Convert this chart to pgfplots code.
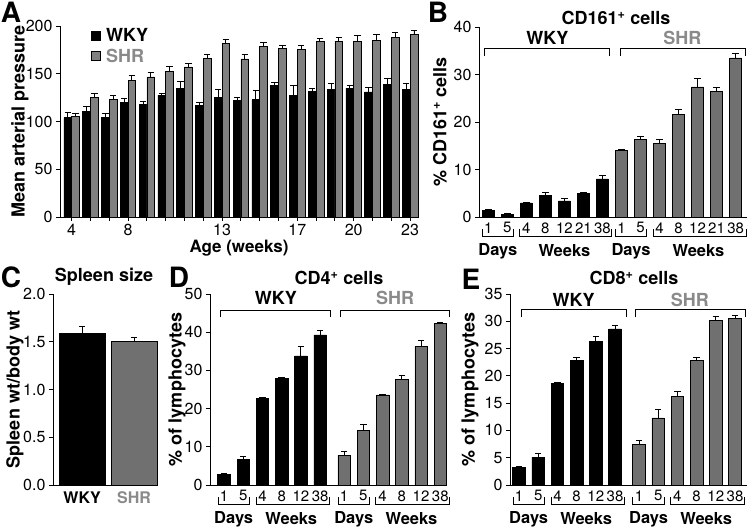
\documentclass[border=0pt]{standalone}
\usepackage{pgfplots}
\pgfplotsset{compat=1.18}
\usepackage{fontspec}
\setmainfont{TeX Gyre Heros}
\definecolor{shrA}{RGB}{128,128,128}
\definecolor{shrB}{RGB}{112,112,112}
\definecolor{shrT}{RGB}{138,138,138}
\newcommand{\fs}[1]{\fontsize{#1}{#1}\selectfont}
\newcommand{\botbr}[4]{%
  \draw[line width=0.8pt] ([yshift=-12pt]axis cs:#1,0) -- ([yshift=-19pt]axis cs:#1,0) -- ([yshift=-19pt]axis cs:#2,0) -- ([yshift=-12pt]axis cs:#2,0);
  \node[font=\bfseries\fs{16.5}] at ([yshift=-34pt]axis cs:#3,0) {#4};}
\newcommand{\topbr}[7]{%
  \draw[line width=0.8pt] (axis cs:#1,#4) -- (axis cs:#1,#3) -- (axis cs:#2,#3) -- (axis cs:#2,#4);
  \node[font=\bfseries\fs{18}] at (axis cs:#5,#6) {#7};}
\pgfplotsset{
 panel/.style={
   scale only axis, clip=false,
   axis x line*=bottom, axis y line*=left,
   axis line style={line width=0.9pt},
   ybar, bar shift=0pt,
   ymin=0,
   tick align=outside,
   major tick length=4pt,
   y tick style={line width=0.9pt, black},
   x tick style={draw=none},
   /pgf/number format/assume math mode=true,
   yticklabel style={font=\fs{16}},
   xticklabel style={font=\fs{15}},
   ylabel style={font=\bfseries\fs{18}},
   error bars/y dir=plus, error bars/y explicit,
   error bars/error bar style={line width=0.9pt, black},
   error bars/error mark options={rotate=90, line width=0.9pt, black, mark size=3.2pt},
 },
 wky/.style={fill=black, draw=black, line width=0.6pt},
 shr/.style={fill=shrB, draw=black, line width=0.6pt},
}
\begin{document}
\begin{tikzpicture}
\path[use as bounding box] (0pt,0pt) rectangle (748pt,528pt);

% ---------------- A ----------------
\begin{axis}[panel, at={(60pt,311pt)}, anchor=south west, width=358pt, height=191pt,
  xmin=-0.62, xmax=18.42, ymax=200, ytick={0,50,...,200},
  bar width=0.41,
  xtick={0,...,18}, xticklabels={4,,,8,,,,,13,,,,17,,,20,,,23},
  x tick style={draw=black, line width=0.9pt},
  xticklabel style={font=\fs{16}},
  ylabel={Mean arterial pressure},
  ylabel style={at={(axis description cs:-0.112,0.5)}, anchor=center},
  xlabel={Age (weeks)},
  xlabel style={font=\bfseries\fs{17}, at={(axis description cs:0.5,-0.163)}, anchor=center},
  legend style={draw=none, fill=none, at={(axis description cs:0.085,1.0)}, anchor=north west,
    font=\bfseries\fs{18}, inner sep=0pt, row sep=2pt, cells={anchor=west}},
  every axis plot post/.append style={legend image code/.code={\filldraw[##1, draw=black, line width=0.6pt] (0pt,-4.5pt) rectangle (9pt,4.5pt);}},
]
\addplot[wky] coordinates {
(-0.205,103.9) +- (0,5.6) (0.795,110.5) +- (0,5.3) (1.795,103.9) +- (0,4.9) (2.795,119.6) +- (0,4.3)
(3.795,117.5) +- (0,3.2) (4.795,127.7) +- (0,2.1) (5.795,134.7) +- (0,7.4) (6.795,116.5) +- (0,3.1)
(7.795,125.6) +- (0,7.7) (8.795,122.1) +- (0,2.8) (9.795,122.8) +- (0,9.8) (10.795,137.5) +- (0,3.2)
(11.795,127.7) +- (0,10.2) (12.795,131.9) +- (0,2.8) (13.795,134.0) +- (0,5.6) (14.795,134.7) +- (0,3.2)
(15.795,130.9) +- (0,4.5) (16.795,138.9) +- (0,6.7) (17.795,134.0) +- (0,6.0)};
\addplot[fill=shrA, draw=black, line width=0.6pt] coordinates {
(0.205,105.3) +- (0,3.5) (1.205,124.9) +- (0,4.9) (2.205,123.5) +- (0,3.5) (3.205,143.2) +- (0,4.9)
(4.205,146.7) +- (0,4.2) (5.205,152.6) +- (0,5.3) (6.205,157.2) +- (0,3.5) (7.205,166.0) +- (0,4.2)
(8.205,181.8) +- (0,4.2) (9.205,165.6) +- (0,4.2) (10.205,178.9) +- (0,3.9) (11.205,176.8) +- (0,2.8)
(12.205,175.4) +- (0,4.2) (13.205,184.2) +- (0,2.8) (14.205,184.2) +- (0,3.8) (15.205,184.2) +- (0,6.0)
(16.205,184.9) +- (0,6.3) (17.205,187.7) +- (0,5.6) (18.205,190.9) +- (0,4.2)};
\legend{\hspace{4pt}WKY, \hspace{4pt}\textcolor{shrT}{SHR}}
\end{axis}

% ---------------- B ----------------
\begin{axis}[panel, at={(479pt,311pt)}, anchor=south west, width=268pt, height=190pt,
  xmin=-0.49, xmax=13.6, ymax=40, ytick={0,10,...,40}, bar width=0.63,
  xtick={0,...,13}, xticklabels={1,5,4,8,12,21,38,1,5,4,8,12,21,38},
  xticklabel style={yshift=2pt},
  ylabel={\% CD161\textsuperscript{+} cells},
  ylabel style={at={(axis description cs:-0.146,0.5)}, anchor=center},
]
\addplot[wky] coordinates {
(0,1.34) +- (0,0.15) (1,0.55) +- (0,0.1) (2,2.95) +- (0,0.1) (3,4.6) +- (0,0.6)
(4,3.37) +- (0,0.5) (5,5.0) +- (0,0.15) (6,8.0) +- (0,0.7)};
\addplot[shr] coordinates {
(7,14.0) +- (0,0.15) (8,16.4) +- (0,0.6) (9,15.5) +- (0,0.8) (10,21.6) +- (0,1.1)
(11,27.4) +- (0,1.8) (12,26.4) +- (0,0.8) (13,33.5) +- (0,0.9)};
\topbr{-0.21}{6.36}{35.5}{33.9}{3.1}{37.6}{WKY}
\topbr{6.92}{13.53}{35.5}{33.9}{10.2}{37.6}{\textcolor{shrT}{SHR}}
\botbr{-0.32}{1.33}{0.5}{Days}
\botbr{1.63}{6.45}{4.0}{Weeks}
\botbr{6.66}{8.33}{7.5}{Days}
\botbr{8.67}{13.55}{11.05}{Weeks}
\end{axis}

% ---------------- C ----------------
\begin{axis}[panel, at={(53pt,43pt)}, anchor=south west, width=105pt, height=191pt,
  xmin=-0.56, xmax=1.46, ymax=2, ytick={0,0.5,...,2}, bar width=0.88,
  yticklabel style={/pgf/number format/.cd, fixed, fixed zerofill, precision=1},
  xtick={0,1}, xticklabels={WKY, \textcolor{shrT}{SHR}},
  xticklabel style={font=\bfseries\fs{16}, yshift=1pt},
  ylabel={Spleen wt/body wt},
  ylabel style={at={(axis description cs:-0.362,0.5)}, anchor=center},
]
\addplot[wky] coordinates {(0,1.59) +- (0,0.07)};
\addplot[shr] coordinates {(1,1.50) +- (0,0.05)};
\end{axis}

% ---------------- D ----------------
\begin{axis}[panel, at={(210pt,43pt)}, anchor=south west, width=237pt, height=191pt,
  xmin=-0.73, xmax=11.6, ymax=50, ytick={0,10,...,50}, bar width=0.65,
  xtick={0,1,2,3,4,5,6.25,7.25,8.25,9.25,10.25,11.25},
  xticklabels={1,5,4,8,12,38,1,5,4,8,12,38},
  xticklabel style={yshift=2pt},
  ylabel={\% of lymphocytes},
  ylabel style={at={(axis description cs:-0.139,0.5)}, anchor=center},
]
\addplot[wky] coordinates {
(0,2.7) +- (0,0.2) (1,6.6) +- (0,0.8) (2,22.6) +- (0,0.2) (3,28.0) +- (0,0.2)
(4,33.8) +- (0,2.5) (5,39.3) +- (0,1.1)};
\addplot[shr] coordinates {
(6.25,7.8) +- (0,0.9) (7.25,14.3) +- (0,1.5) (8.25,23.6) +- (0,0.2) (9.25,27.7) +- (0,1.0)
(10.25,36.2) +- (0,1.6) (11.25,42.3) +- (0,0.2)};
\topbr{-0.2}{5.55}{45.8}{44.1}{2.7}{49.0}{WKY}
\topbr{6.05}{11.75}{45.8}{44.1}{8.9}{49.0}{\textcolor{shrT}{SHR}}
\botbr{-0.3}{1.33}{0.5}{Days}
\botbr{1.67}{5.5}{3.5}{Weeks}
\botbr{5.93}{7.58}{6.75}{Days}
\botbr{7.9}{11.75}{9.75}{Weeks}
\end{axis}

% ---------------- E ----------------
\begin{axis}[panel, at={(510pt,43pt)}, anchor=south west, width=237pt, height=191pt,
  xmin=-0.47, xmax=11.875, ymax=35, ytick={0,5,...,35}, bar width=0.65,
  xtick={0,1,2,3,4,5,6.25,7.25,8.25,9.25,10.25,11.25},
  xticklabels={1,5,4,8,12,38,1,5,4,8,12,38},
  xticklabel style={yshift=2pt},
  ylabel={\% of lymphocytes},
  ylabel style={at={(axis description cs:-0.169,0.5)}, anchor=center},
]
\addplot[wky] coordinates {
(0,3.2) +- (0,0.25) (1,5.1) +- (0,0.6) (2,18.6) +- (0,0.2) (3,22.8) +- (0,0.6)
(4,26.3) +- (0,0.9) (5,28.6) +- (0,0.7)};
\addplot[shr] coordinates {
(6.25,7.4) +- (0,0.8) (7.25,12.3) +- (0,1.6) (8.25,16.2) +- (0,0.9) (9.25,22.8) +- (0,0.5)
(10.25,30.1) +- (0,0.7) (11.25,30.6) +- (0,0.5)};
\topbr{0.14}{5.57}{32.1}{30.7}{2.85}{33.9}{WKY}
\topbr{6.08}{11.77}{32.1}{30.7}{8.9}{33.9}{\textcolor{shrT}{SHR}}
\botbr{-0.3}{1.33}{0.5}{Days}
\botbr{1.67}{5.5}{3.5}{Weeks}
\botbr{5.93}{7.58}{6.75}{Days}
\botbr{7.9}{11.75}{9.75}{Weeks}
\end{axis}

% ---------------- panel letters and titles ----------------
\node[font=\bfseries\fs{28}] at (11pt,516pt) {A};
\node[font=\bfseries\fs{28}] at (438pt,516pt) {B};
\node[font=\bfseries\fs{28}] at (11pt,251pt) {C};
\node[font=\bfseries\fs{28}] at (179pt,251pt) {D};
\node[font=\bfseries\fs{28}] at (471pt,249pt) {E};
\node[font=\bfseries\fs{18}] at (616pt,510pt) {CD161\textsuperscript{+} cells};
\node[font=\bfseries\fs{18}] at (104pt,251pt) {Spleen size};
\node[font=\bfseries\fs{18}] at (339pt,250pt) {CD4\textsuperscript{+} cells};
\node[font=\bfseries\fs{18}] at (634pt,250pt) {CD8\textsuperscript{+} cells};
\end{tikzpicture}
\end{document}
